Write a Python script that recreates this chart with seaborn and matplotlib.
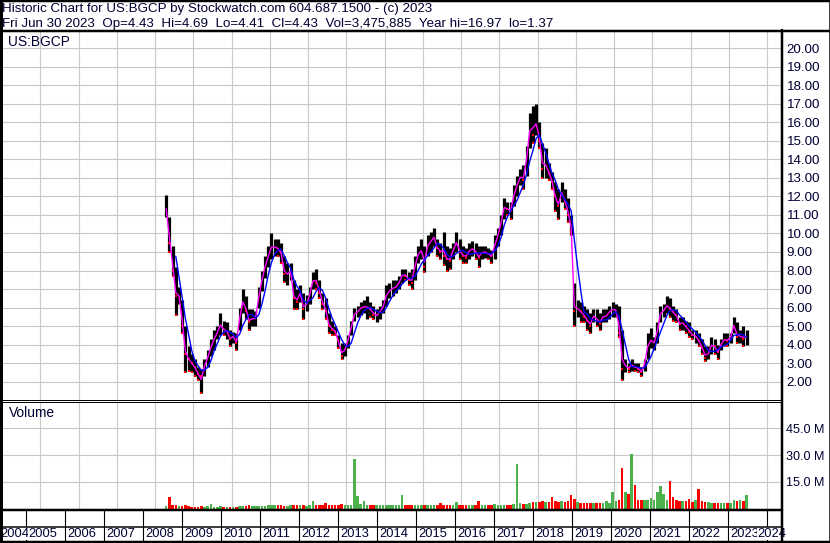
import numpy as np
import pandas as pd
import matplotlib
matplotlib.use('Agg')
import matplotlib.pyplot as plt
import seaborn as sns
from matplotlib.lines import Line2D

# monthly bars, Apr 2008 .. Jun 2023
highs = [
    12.1, 10.9, 9.3, 8.2, 7.1, 6.4, 5.0, 3.9, 3.5,                      # 2008 Apr-Dec
    3.2, 2.8, 2.7, 3.2, 3.7, 4.3, 4.8, 5.0, 5.7, 5.3, 5.2, 4.8,          # 2009
    4.7, 4.6, 6.0, 7.0, 6.6, 5.9, 5.9, 5.8, 7.1, 8.0, 8.8, 9.3,          # 2010
    10.0, 9.7, 9.7, 9.5, 8.8, 8.4, 8.4, 7.5, 7.0, 7.2, 6.8, 6.7,         # 2011
    7.1, 7.9, 8.1, 7.5, 6.8, 6.5, 5.7, 5.3, 5.0, 4.5, 4.1, 4.1,          # 2012
    4.5, 5.3, 6.0, 6.1, 6.3, 6.4, 6.6, 6.3, 6.1, 5.9, 6.1, 6.4,          # 2013
    7.2, 7.3, 7.5, 7.5, 7.7, 8.1, 8.1, 7.9, 8.1, 8.8, 9.3, 9.7,          # 2014
    9.3, 9.9, 10.1, 10.3, 9.7, 9.5, 10.1, 9.3, 9.2, 9.5, 10.1, 9.7,      # 2015
    9.3, 9.2, 9.5, 9.6, 9.5, 9.3, 9.3, 9.3, 9.2, 9.1, 9.9, 10.3,         # 2016
    11.0, 11.9, 11.7, 11.7, 12.6, 13.1, 13.5, 13.7, 14.7, 16.5, 16.9, 16.97,  # 2017
    16.0, 14.9, 14.6, 13.8, 13.3, 12.8, 12.4, 12.8, 12.4, 11.9, 11.0, 7.3,    # 2018
    6.4, 6.3, 6.1, 5.9, 5.7, 5.9, 5.9, 5.7, 5.9, 5.9, 6.1, 6.3,          # 2019
    6.2, 6.1, 4.8, 3.2, 3.0, 3.2, 3.0, 3.0, 2.8, 3.2, 4.6, 4.9,          # 2020
    4.4, 5.2, 6.1, 6.2, 6.6, 6.5, 6.1, 5.9, 5.5, 5.5, 5.3, 5.2,          # 2021
    4.8, 4.8, 4.6, 4.3, 3.9, 3.9, 4.4, 4.3, 4.0, 4.3, 4.6, 4.6,          # 2022
    4.6, 5.5, 5.2, 4.8, 5.0, 4.8,                                        # 2023 Jan-Jun
]
lows = [
    10.9, 9.0, 7.7, 5.6, 6.2, 4.6, 2.5, 2.6, 2.5,
    2.3, 2.1, 1.37, 2.3, 2.8, 3.4, 3.7, 4.3, 4.5, 4.5, 4.3, 3.9,
    4.1, 3.7, 4.8, 5.7, 5.4, 4.8, 5.0, 5.0, 6.0, 6.9, 7.6, 8.2,
    8.6, 8.8, 8.8, 8.4, 7.4, 7.2, 7.5, 5.9, 5.9, 6.3, 5.4, 5.8,
    6.2, 7.0, 7.0, 6.5, 5.9, 5.4, 4.6, 4.5, 4.5, 3.8, 3.2, 3.4,
    3.8, 4.5, 5.3, 5.5, 5.6, 5.7, 5.4, 5.5, 5.4, 5.2, 5.4, 5.7,
    6.1, 6.5, 6.6, 6.8, 7.0, 7.3, 7.5, 7.2, 7.0, 7.5, 8.4, 8.6,
    7.9, 8.8, 9.0, 9.3, 8.8, 8.6, 8.3, 8.0, 8.1, 8.6, 9.0, 8.6,
    8.4, 8.4, 8.6, 8.8, 8.6, 8.2, 8.6, 8.7, 8.6, 8.4, 8.6, 9.3,
    9.9, 10.8, 11.0, 10.8, 11.5, 12.0, 12.6, 12.4, 13.1, 14.6, 14.9, 15.3,
    14.6, 13.0, 13.0, 12.9, 12.4, 11.2, 10.8, 11.7, 11.3, 10.6, 9.9, 5.0,
    5.5, 5.2, 5.2, 4.8, 4.6, 5.2, 5.0, 4.8, 5.2, 5.2, 5.4, 5.5,
    5.5, 4.4, 2.1, 2.5, 2.5, 2.6, 2.6, 2.5, 2.3, 2.6, 3.2, 3.8,
    3.7, 4.1, 5.2, 5.5, 5.7, 5.5, 5.3, 5.2, 4.8, 4.8, 4.6, 4.4,
    4.3, 4.1, 3.9, 3.5, 3.1, 3.2, 3.5, 3.5, 3.2, 3.7, 3.9, 3.9,
    4.1, 4.6, 4.1, 4.1, 3.9, 4.0,
]
closes = [
    11.0, 9.5, 8.0, 6.6, 6.6, 5.0, 3.5, 3.2, 3.0,
    2.8, 2.4, 2.3, 3.0, 3.4, 3.8, 4.4, 4.6, 5.0, 4.7, 4.7, 4.3,
    4.5, 4.1, 5.3, 6.2, 5.8, 5.2, 5.3, 5.4, 6.5, 7.5, 8.2, 8.8,
    9.2, 9.3, 9.1, 9.0, 7.8, 7.8, 8.0, 6.5, 6.3, 6.8, 5.9, 6.0,
    6.8, 7.4, 7.3, 6.8, 6.2, 5.8, 5.0, 4.8, 4.7, 4.2, 3.4, 3.6,
    4.4, 4.9, 5.6, 5.7, 6.0, 6.0, 6.1, 5.9, 5.6, 5.6, 5.8, 6.0,
    6.6, 6.9, 7.0, 7.0, 7.3, 7.8, 7.7, 7.5, 7.3, 8.3, 8.9, 8.9,
    8.2, 9.3, 9.6, 9.8, 9.2, 9.0, 8.8, 8.6, 8.5, 9.2, 9.4, 9.0,
    8.8, 8.7, 9.0, 9.1, 9.0, 8.7, 9.0, 9.0, 8.9, 8.8, 9.5, 10.0,
    10.8, 11.5, 11.3, 11.2, 12.0, 12.6, 13.0, 12.9, 14.2, 15.5, 15.3, 15.5,
    15.0, 13.5, 13.5, 13.2, 12.8, 12.0, 11.5, 12.1, 11.7, 11.0, 10.1, 5.8,
    6.0, 5.8, 5.5, 5.3, 5.0, 5.5, 5.3, 5.1, 5.4, 5.5, 5.8, 5.9,
    5.9, 4.6, 2.7, 2.9, 2.7, 2.9, 2.8, 2.7, 2.5, 3.0, 3.9, 4.0,
    4.2, 4.8, 5.7, 5.8, 6.0, 5.9, 5.8, 5.6, 5.1, 5.2, 5.0, 4.7,
    4.5, 4.5, 4.2, 3.8, 3.3, 3.4, 4.0, 3.9, 3.6, 4.0, 4.3, 4.2,
    4.5, 5.0, 4.4, 4.4, 4.3, 4.43,
]
# volume in millions of shares
volumes = [
    1.5, 6.3, 2.0, 2.0, 1.5, 1.5, 1.8, 1.2, 1.0,
    1.0, 1.0, 1.2, 1.0, 1.2, 2.8, 1.0, 1.0, 1.2, 1.0, 1.0, 1.0,
    1.0, 1.0, 1.2, 1.2, 1.2, 2.0, 1.2, 1.2, 1.2, 1.3, 1.5, 1.8,
    2.0, 1.8, 2.0, 1.8, 1.6, 1.6, 1.8, 2.2, 2.0, 1.8, 1.8, 1.6,
    1.8, 4.0, 2.0, 1.8, 2.0, 3.0, 2.0, 1.8, 2.0, 2.2, 2.5, 2.2,
    2.0, 2.2, 27.9, 7.0, 2.5, 4.0, 2.2, 2.0, 2.0, 2.2, 2.0, 2.0,
    2.0, 2.0, 2.2, 2.0, 2.0, 7.7, 2.0, 1.8, 2.0, 2.2, 2.0, 2.0,
    2.0, 2.0, 2.0, 2.0, 2.2, 3.2, 2.0, 2.2, 2.0, 2.0, 3.5, 2.0,
    2.0, 2.0, 2.0, 1.8, 1.8, 4.0, 2.0, 1.8, 2.0, 2.0, 2.5, 2.2,
    2.2, 2.2, 2.0, 2.0, 2.5, 25.0, 3.0, 2.5, 2.5, 3.0, 3.5, 3.5,
    3.5, 4.0, 3.5, 3.5, 6.5, 4.0, 3.5, 4.0, 3.5, 4.0, 7.5, 5.5,
    3.5, 3.0, 3.0, 3.0, 3.0, 3.0, 3.0, 3.0, 3.0, 4.0, 3.0, 9.0,
    4.0, 5.0, 22.5, 9.0, 8.0, 30.8, 13.4, 5.0, 4.5, 4.5, 5.0, 6.0,
    5.0, 9.0, 12.7, 8.0, 5.0, 15.5, 6.5, 4.5, 4.0, 4.0, 4.0, 5.5,
    3.5, 5.0, 10.7, 4.0, 3.5, 3.5, 3.0, 3.0, 3.0, 3.0, 3.0, 3.0,
    3.0, 4.5, 4.0, 5.0, 4.0, 7.5,
]
price_ticks = list(range(2, 21))
volume_ticks = [15, 30, 45]
years = list(range(2004, 2025))

title_1 = "Historic Chart for US:BGCP by Stockwatch.com 604.687.1500 - (c) 2023"
title_2 = ("Fri Jun 30 2023  Op=4.43  Hi=4.69  Lo=4.41  Cl=4.43  "
           "Vol=3,475,885  Year hi=16.97  lo=1.37")

months = pd.date_range('2008-04-01', periods=len(closes), freq='MS')
df = pd.DataFrame({
    't': months.year + (months.month - 0.5) / 12,
    'high': highs, 'low': lows, 'close': closes, 'volume': volumes,
})
df['fast'] = (df['high'] + df['low'] + df['close']) / 3
df['slow'] = df['close'].rolling(4).mean()
df['up'] = df['close'].diff().fillna(0) >= 0

sns.set_theme(style='white')
plt.rcParams['font.family'] = ['Liberation Sans', 'DejaVu Sans']
TXT = '#000033'
GRID = '#c8c8c8'

W, H = 830, 543
fig = plt.figure(figsize=(W / 100, H / 100), dpi=100)
fig.patch.set_facecolor('white')


def rect(x0, y0, x1, y1):
    return [x0 / W, 1 - y1 / H, (x1 - x0) / W, (y1 - y0) / H]


def hline(y, x0, x1, px):
    fig.add_artist(Line2D([x0 / W, x1 / W], [1 - y / H, 1 - y / H],
                          color='black', lw=px * 0.72, transform=fig.transFigure))


def vline(x, y0, y1, px):
    fig.add_artist(Line2D([x / W, x / W], [1 - y0 / H, 1 - y1 / H],
                          color='black', lw=px * 0.72, transform=fig.transFigure))


xlim = (2004.385, 2024.385)
ax_p = fig.add_axes(rect(2, 31, 782, 400))
ax_v = fig.add_axes(rect(2, 402, 782, 508.5))
ax_s = fig.add_axes(rect(2, 510, 782, 541))

for ax in (ax_p, ax_v, ax_s):
    ax.set_xlim(*xlim)
    for s in ax.spines.values():
        s.set_visible(False)
    ax.set_facecolor('white')

# price panel
ax_p.set_ylim(1.01, 20.93)
ax_p.set_xticks(years)
ax_p.set_xticklabels([])
ax_p.set_yticks(price_ticks)
ax_p.set_yticklabels([f'{v:.2f}' for v in price_ticks], color=TXT, fontsize=9.6)
ax_p.yaxis.tick_right()
ax_p.tick_params(length=0, pad=3.4)
ax_p.grid(True, color=GRID, lw=0.8)
ax_p.set_axisbelow(True)

ax_p.vlines(df['t'], df['low'], df['high'], color='black', lw=2.3, zorder=2)
down = df[~df['up']]
ax_p.scatter(down['t'], down['close'], marker='s', s=4, color='red',
             linewidths=0, zorder=3)
ax_p.scatter(down['t'], down['low'], marker='s', s=4, color='red',
             linewidths=0, zorder=3)
sns.lineplot(data=df, x='t', y='fast', color='#ff00ff', lw=1, ax=ax_p, zorder=4)
sns.lineplot(data=df, x='t', y='slow', color='#0000ff', lw=1, ax=ax_p, zorder=5)
ax_p.set_xlabel('')
ax_p.set_ylabel('')

# volume panel
ax_v.set_ylim(0, 59.8)
ax_v.set_xticks(years)
ax_v.set_xticklabels([])
ax_v.set_yticks(volume_ticks)
ax_v.set_yticklabels([f'{v:.1f} M' for v in volume_ticks], color=TXT, fontsize=9.1)
ax_v.yaxis.tick_right()
ax_v.tick_params(length=0, pad=3.2)
ax_v.grid(True, color=GRID, lw=0.8)
ax_v.set_axisbelow(True)
bar_colors = np.where(df['up'], '#4cb04c', '#ff0000')
ax_v.bar(df['t'], df['volume'], width=0.8 / 12, color=bar_colors, lw=0, zorder=2)

# year strip
ax_s.set_ylim(0, 1)
ax_s.set_xticks([])
ax_s.set_yticks([])
px_year = (xlim[1] - xlim[0]) / 780
for y in years:
    ax_s.axvline(y, color='black', lw=0.8)
    if y == years[-1]:
        # last label is pushed left so it fits, as in the original
        ax_s.text(xlim[1] + 4 * px_year, 0.04, str(y), fontsize=9.3,
                  color=TXT, ha='right', va='bottom', clip_on=False,
                  bbox=dict(facecolor='white', edgecolor='none', pad=0.3))
    else:
        ax_s.text(max(y + 0.06, xlim[0] - 0.04), 0.04, str(y), fontsize=9.3,
                  color=TXT, ha='left', va='bottom', clip_on=True,
                  bbox=dict(facecolor='white', edgecolor='none', pad=0.3))

# frame and separator lines
hline(1, 0, W, 2.5)
hline(30.5, 0, W, 2.5)
hline(542, 0, W, 2.5)
vline(1, 0, H, 3)
vline(829.5, 0, H, 1.5)
vline(782, 30, H, 2.5)
hline(400, 0, 782, 1)
hline(402, 0, 782, 1)
hline(509.5, 0, 782, 2.5)
hline(527, 0, 782, 1.5)

fig.text(2 / W, 1 - 11.7 / H, title_1, fontsize=9.6, color=TXT, va='baseline')
fig.text(2 / W, 1 - 26.5 / H, title_2, fontsize=9.6, color=TXT, va='baseline')
fig.text(8 / W, 1 - 46 / H, 'US:BGCP', fontsize=9.9, color=TXT, va='baseline')
fig.text(9 / W, 1 - 417 / H, 'Volume', fontsize=9.9, color=TXT, va='baseline')

fig.savefig('out.png', dpi=100, facecolor='white')
